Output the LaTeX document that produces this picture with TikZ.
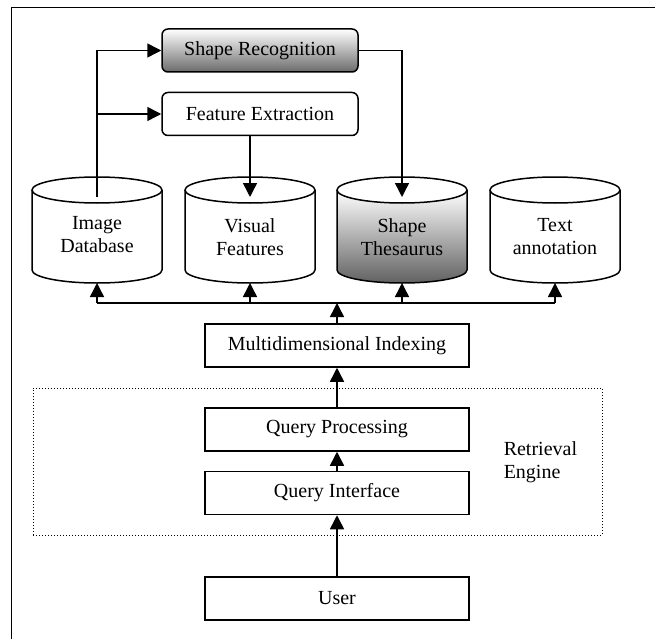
\documentclass[tikz,border=0pt]{standalone}
\usepackage{fontspec}
\setmainfont{Liberation Serif}
\usetikzlibrary{arrows.meta}
\begin{document}
\begin{tikzpicture}[x=1pt,y=-1pt,
  font=\fontsize{20}{23}\selectfont,
  line width=1.5pt,
  arr/.style={-{Triangle[length=14pt,width=14pt]}},
  plainbox/.style={draw, minimum width=264pt, minimum height=43pt, inner sep=0pt},
  roundbox/.style={draw, rounded corners=6pt, minimum width=196pt, minimum height=43pt, inner sep=0pt},
  dbtext/.style={align=center, inner sep=0pt},
  enginebox/.style={draw, line width=1pt, dash pattern=on 1.2pt off 1.8pt,
    minimum width=569pt, minimum height=147pt, inner sep=0pt},
  greyshade/.style={top color=white, bottom color=black!62},
]
\useasboundingbox (0,0) rectangle (655,639);
\fill[white] (0,0) rectangle (655,639);

% page frame (left and top edges)
\draw[line width=1.8pt] (11.5,639) -- (11.5,7.5) -- (655,7.5);

% database cylinder: #1 = centre x, #2 = body fill style
\newcommand\dbcyl[2]{%
  \path[#2] (#1-65,190) -- (#1-65,270)
     arc[start angle=180, end angle=0, x radius=65, y radius=13] -- (#1+65,190) -- cycle;
  \draw (#1-65,190) -- (#1-65,270)
     arc[start angle=180, end angle=0, x radius=65, y radius=13] -- (#1+65,190);
  \draw[fill=white] (#1,190) ellipse [x radius=65, y radius=13];
}
\dbcyl{97}{fill=white}
\dbcyl{250}{fill=white}
\dbcyl{402}{greyshade}
\dbcyl{555}{fill=white}

% processing boxes
\node[roundbox, top color=white, bottom color=black!58] (sr) at (260,50.5) {Shape Recognition};
\node[roundbox, fill=white] (fe) at (260,114) {Feature Extraction};

% stores
\node[dbtext] (id) at (97,235) {Image\\Database};
\node[dbtext] (vf) at (250,237) {Visual\\Features};
\node[dbtext] (st) at (402,237) {Shape\\Thesaurus};
\node[dbtext] (ta) at (555,237) {Text\\annotation};

% retrieval chain
\node[enginebox] (eng) at (317.5,461.5) {};
\node[plainbox] (mi) at (337,345.5) {Multidimensional Indexing};
\node[plainbox] (qp) at (337,429.5) {Query Processing};
\node[plainbox] (qi) at (337,493) {Query Interface};
\node[plainbox] (us) at (337,598.5) {User};
\node[align=left, anchor=west, inner sep=0pt] (re) at (503,462) {Retrieval\\Engine};

% connector points on the cylinders and the bus
\coordinate (idtop) at (97,197);
\coordinate (vftop) at (250,197);
\coordinate (sttop) at (402,197);
\coordinate (j2) at (97,114);
\coordinate (idbot) at (97,283);
\coordinate (vfbot) at (250,283);
\coordinate (stbot) at (402,283);
\coordinate (tabot) at (555,283);
\coordinate (b1) at (97,303);
\coordinate (b2) at (250,303);
\coordinate (b3) at (402,303);
\coordinate (b4) at (555,303);
\coordinate (bus) at (337,303);

% top connectors
\draw[arr] (idtop) |- (sr.west);
\draw[arr] (j2) -- (fe.west);
\draw[arr] (sr.east) -| (sttop);
\draw[arr] (fe.south -| vftop) -- (vftop);

% bus to the stores
\draw (b1) -- (b4);
\draw[arr] (b1) -- (idbot);
\draw[arr] (b2) -- (vfbot);
\draw[arr] (b3) -- (stbot);
\draw[arr] (b4) -- (tabot);

% chain upwards
\draw[arr] (mi.north) -- (bus);
\draw[arr] (qp.north) -- (mi.south);
\draw[arr] (qi.north) -- (qp.south);
\draw[arr] (us.north) -- (qi.south);
\end{tikzpicture}
\end{document}
